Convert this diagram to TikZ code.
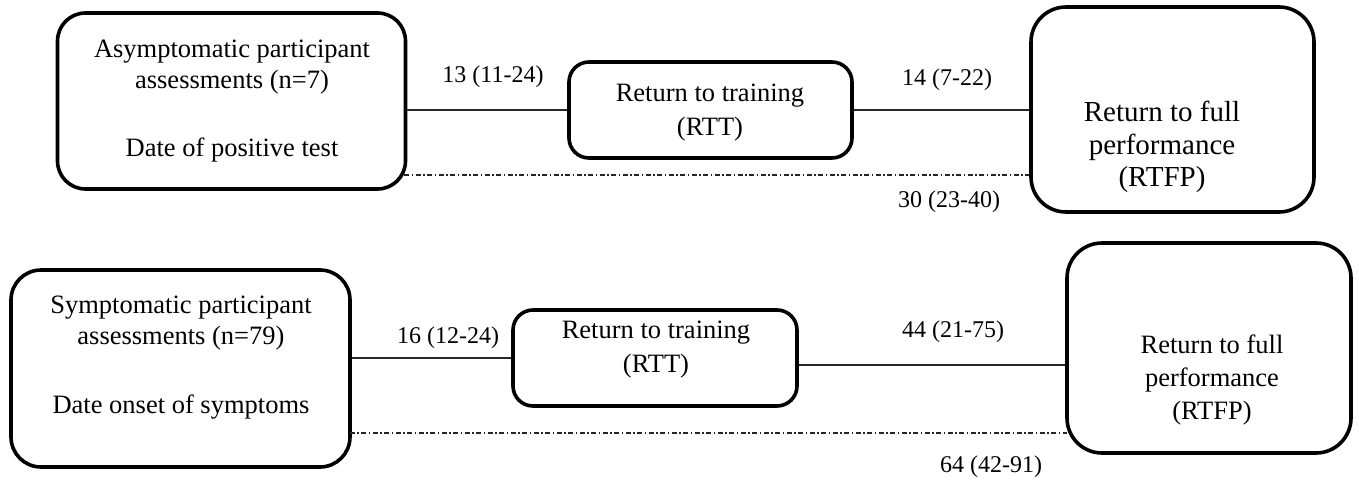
\documentclass[tikz,border=0pt]{standalone}
\usepackage{fontspec}
\setmainfont{Liberation Serif}
\begin{document}
\begin{tikzpicture}[x=1pt,y=-1pt,
  box/.style={draw, line width=3.6pt, inner sep=0pt},
  txt/.style={align=center, inner sep=0pt, font=\fontsize{26.5}{31}\selectfont},
  rtxt/.style={align=center, inner sep=0pt, font=\fontsize{26.5}{34}\selectfont},
  lbl/.style={inner sep=0pt, font=\fontsize{24}{28}\selectfont},
  conn/.style={line width=1.2pt, draw=black!85},
  dd/.style={line width=1.2pt, draw=black!85, dash pattern=on 5pt off 2.5pt on 1.5pt off 2.5pt}
]
\useasboundingbox (0,0) rectangle (1359,484);

% ---------- top row ----------
\node[box, rounded corners=28pt, minimum width=348pt, minimum height=176pt] (a1) at (231.5,101) {};
\node[txt] (a1t) at (232,101) {Asymptomatic participant\\assessments (n=7)\\[37pt]Date of positive test};

\node[box, rounded corners=20pt, minimum width=283pt, minimum height=96pt] (rtt1) at (710.5,110) {};
\node[rtxt] (rtt1t) at (710,112.5) {Return to training\\(RTT)};

\node[box, rounded corners=35pt, minimum width=283pt, minimum height=205pt] (rtfp1) at (1172.5,109.5) {};
\node[align=center, inner sep=0pt, font=\fontsize{29}{32.5}\selectfont] (rtfp1t) at (1162,147) {Return to full\\performance\\(RTFP)};

\coordinate (y1) at (0,175);
\draw[conn] (rtt1.west -| a1.east) -- (rtt1.west);
\draw[conn] (rtt1.east) -- (rtt1.east -| rtfp1.west);
\draw[dd, shorten <=-3pt] (a1.east |- y1) -- (rtfp1.west |- y1);

\node[lbl] (l1) at (493,77) {13 (11-24)};
\node[lbl] (l2) at (947,80) {14 (7-22)};
\node[lbl] (l3) at (949,202) {30 (23-40)};

% ---------- bottom row ----------
\node[box, rounded corners=30pt, minimum width=339pt, minimum height=197pt] (s1) at (180.5,368.5) {};
\node[txt] (s1t) at (181,357.5) {Symptomatic participant\\assessments (n=79)\\[38pt]Date onset of symptoms};

\node[box, rounded corners=20pt, minimum width=284pt, minimum height=96pt] (rtt2) at (655,358) {};
\node[rtxt] (rtt2t) at (656,350) {Return to training\\(RTT)};

\node[box, rounded corners=35pt, minimum width=284pt, minimum height=210pt] (rtfp2) at (1209,348) {};
\node[align=center, inner sep=0pt, font=\fontsize{26.5}{33}\selectfont] (rtfp2t) at (1212,380) {Return to full\\performance\\(RTFP)};

\coordinate (y2) at (0,365);
\coordinate (y3) at (0,433);
\draw[conn] (rtt2.west -| s1.east) -- (rtt2.west);
\draw[conn] (rtt2.east |- y2) -- (rtfp2.west |- y2);
\draw[dd, shorten <=-2pt, shorten >=-2pt] (s1.east |- y3) -- (rtfp2.west |- y3);

\node[lbl] (l4) at (448,338) {16 (12-24)};
\node[lbl] (l5) at (953,332) {44 (21-75)};
\node[lbl] (l6) at (991,467) {64 (42-91)};
\end{tikzpicture}
\end{document}
